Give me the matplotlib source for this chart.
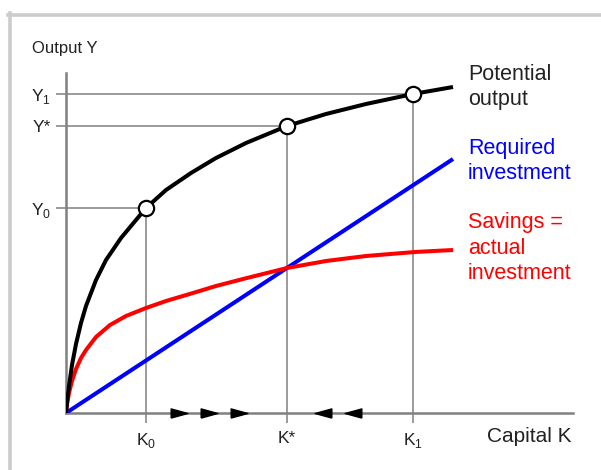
import matplotlib.pyplot as plt
from matplotlib.lines import Line2D

plt.rcParams['font.family'] = ['Liberation Sans', 'DejaVu Sans']
plt.rcParams['mathtext.fontset'] = 'custom'
plt.rcParams['mathtext.rm'] = 'Liberation Sans'

# Potential output curve
k_output = [0, 1, 3, 6, 10, 15, 20, 30, 40, 55, 80, 100, 125, 150, 180, 221, 260, 300, 347, 387]
y_output = [0, 10, 27, 48, 69, 90, 107, 133, 153, 175, 205, 223, 240, 255, 270, 287, 299, 309, 319, 326]

# Savings = actual investment
k_savings = [0, 1, 3, 6, 10, 15, 20, 30, 44, 60, 80, 100, 127, 150, 177, 221, 260, 300, 349, 387]
y_savings = [0, 9, 20, 32, 44, 55, 63, 76, 88, 97, 105, 112, 120, 127, 134, 145, 152, 157, 161, 163]

# Required investment (straight line)
k_required = [0, 387]
y_required = [0, 254]

# Key points
k_marks = [80, 221, 347]
y_marks = [205, 287, 319]
k_labels = [r'K$_\mathrm{0}$', 'K*', r'K$_\mathrm{1}$']
y_labels = [r'Y$_\mathrm{0}$', 'Y*', r'Y$_\mathrm{1}$']

# convergence arrows on the capital axis
arrows_right = [113, 143, 173]
arrows_left = [257, 287]

grey = '#808080'
ink = '#222222'
arrow_r = [(-1, -0.55), (1, 0), (-1, 0.55), (-1, -0.55)]
arrow_l = [(1, -0.55), (-1, 0), (1, 0.55), (1, -0.55)]

fig = plt.figure(figsize=(6.01, 4.70), dpi=100)
ax = fig.add_axes([66 / 601, 57 / 470, 507 / 601, 340 / 470])
ax.set_xlim(0, 507)
ax.set_ylim(0, 340)

for s in ['top', 'right']:
    ax.spines[s].set_visible(False)
for s in ['left', 'bottom']:
    ax.spines[s].set_color(grey)
    ax.spines[s].set_linewidth(1.8)

# guide lines
for k, y in zip(k_marks, y_marks):
    ax.plot([0, k], [y, y], color=grey, lw=1.1, zorder=1)
    ax.plot([k, k], [0, y], color=grey, lw=1.1, zorder=1)

ax.set_xticks(k_marks, k_labels)
ax.set_yticks(y_marks, y_labels)
ax.tick_params(axis='both', color=grey, width=1.1, length=7, labelsize=12.5, labelcolor=ink)
ax.tick_params(axis='x', pad=6)
ax.tick_params(axis='y', pad=4)

ax.plot(k_required, y_required, color='#0000ff', lw=2.9, solid_capstyle='butt', zorder=3)
ax.plot(k_savings, y_savings, color='#ff0000', lw=2.9, solid_capstyle='butt',
        solid_joinstyle='round', zorder=3)
ax.plot(k_output, y_output, color='black', lw=2.9, solid_capstyle='butt',
        solid_joinstyle='round', zorder=4)
ax.plot(k_marks, y_marks, 'o', ms=11, mfc='white', mec='black', mew=1.6, zorder=5)

ax.plot(arrows_right, [0] * len(arrows_right), marker=arrow_r, ls='none', color='black',
        ms=12, clip_on=False, zorder=6)
ax.plot(arrows_left, [0] * len(arrows_left), marker=arrow_l, ls='none', color='black',
        ms=12, clip_on=False, zorder=6)

ax.text(-34, 365, 'Output Y', fontsize=12, color=ink, va='center', ha='left', clip_on=False)
ax.text(421, -24, 'Capital K', fontsize=15, color=ink, va='center', ha='left', clip_on=False)

ax.text(402, 326, 'Potential\noutput', fontsize=15.5, color=ink, va='center', ha='left',
        linespacing=1.3)
ax.text(402, 252, 'Required\ninvestment', fontsize=15.5, color='#0000ff', va='center',
        ha='left', linespacing=1.3)
ax.text(402, 165, 'Savings =\nactual\ninvestment', fontsize=15.5, color='#ff0000',
        va='center', ha='left', linespacing=1.3)

# light frame around the picture
fig.add_artist(Line2D([8 / 601, 1], [1 - 14.5 / 470, 1 - 14.5 / 470], color='#cccccc', lw=2.6))
fig.add_artist(Line2D([10.5 / 601, 10.5 / 601], [0, 1 - 13 / 470], color='#cccccc', lw=2.6))

fig.savefig('out.png', dpi=100)
